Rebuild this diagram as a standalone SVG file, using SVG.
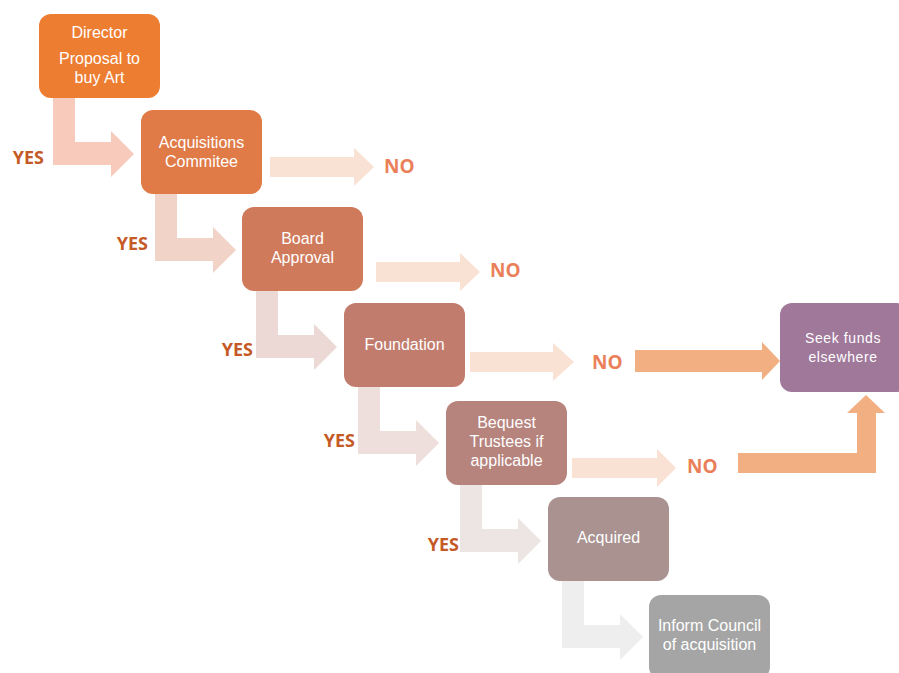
<svg xmlns="http://www.w3.org/2000/svg" width="899" height="673" viewBox="0 0 899 673">
<style>
.node rect{rx:12;ry:12}
.nt{font-family:"Liberation Sans","Open Sans",sans-serif;font-size:16px;fill:#fff;text-anchor:middle}
.yes{font-family:"Open Sans","Liberation Sans",sans-serif;font-size:18px;font-weight:bold;fill:#C55A27;text-anchor:end}
.no{font-family:"Open Sans","Liberation Sans",sans-serif;font-size:19px;font-weight:bold;fill:#EA805A}
.noarr{fill:#F9E2D4}
.big{fill:#F2AF81}
</style>
<rect width="899" height="673" fill="#fff"/>
<g id="connectors">
<polygon fill="#F7CABB" points="53,98 75,98 75,142 111,142 111,131 134,154 111,177 111,165 53,165"/>
<polygon fill="#F2D3C8" points="155,194 177,194 177,238 213,238 213,227 236,250 213,273 213,261 155,261"/>
<polygon fill="#ECD8D5" points="256,291 278,291 278,335 314,335 314,324 337,347 314,370 314,358 256,358"/>
<polygon fill="#EEDEDC" points="358,387 380,387 380,431 416,431 416,420 439,443 416,466 416,454 358,454"/>
<polygon fill="#EDE5E4" points="460,485 482,485 482,529 518,529 518,518 541,541 518,564 518,552 460,552"/>
<polygon fill="#EFEEEE" points="562,581 584,581 584,625 620,625 620,614 643,637 620,660 620,648 562,648"/>
<polygon class="noarr" points="270,157 354,157 354,148 374,167 354,186 354,177 270,177"/>
<polygon class="noarr" points="376,262 460,262 460,253 480,272 460,291 460,282 376,282"/>
<polygon class="noarr" points="470,352 553,352 553,343 574,362 553,381 553,372 470,372"/>
<polygon class="noarr" points="572,458 657,458 657,449 676,468 657,487 657,478 572,478"/>
<polygon class="big" points="635,350 762,350 762,342 780,361 762,380 762,372 635,372"/>
<polygon class="big" points="738,453 857,453 857,413 847,413 866,395 885,413 876,413 876,473 738,473"/>
<text class="yes" x="44" y="164">YES</text>
<text class="yes" x="148" y="250">YES</text>
<text class="yes" x="253" y="356">YES</text>
<text class="yes" x="355" y="447">YES</text>
<text class="yes" x="459" y="551">YES</text>
<text class="no" x="384" y="173">NO</text>
<text class="no" x="490" y="277">NO</text>
<text class="no" x="592" y="369">NO</text>
<text class="no" x="687" y="473">NO</text>
</g>
<g id="director" class="node"><rect x="39" y="14" width="121" height="84" fill="#ED7D31"/>
<text class="nt" x="99.5" y="38">Director</text>
<text class="nt" x="99.5" y="64">Proposal to</text>
<text class="nt" x="99.5" y="83">buy Art</text></g>
<g id="acquisitions" class="node"><rect x="141" y="110" width="121" height="84" fill="#E07B47"/>
<text class="nt" x="201.5" y="148">Acquisitions</text>
<text class="nt" x="201.5" y="167">Commitee</text></g>
<g id="board" class="node"><rect x="242" y="207" width="121" height="84" fill="#D07A5C"/>
<text class="nt" x="302.5" y="244">Board</text>
<text class="nt" x="302.5" y="263">Approval</text></g>
<g id="foundation" class="node"><rect x="344" y="303" width="121" height="84" fill="#C27C6E"/>
<text class="nt" x="404.5" y="350">Foundation</text></g>
<g id="bequest" class="node"><rect x="446" y="401" width="121" height="84" fill="#B6837D"/>
<text class="nt" x="506.5" y="428">Bequest</text>
<text class="nt" x="506.5" y="447">Trustees if</text>
<text class="nt" x="506.5" y="466">applicable</text></g>
<g id="acquired" class="node"><rect x="548" y="497" width="121" height="84" fill="#A99290"/>
<text class="nt" x="608.5" y="543">Acquired</text></g>
<g id="inform" class="node"><rect x="649" y="595" width="121" height="84" fill="#A5A5A5"/>
<text class="nt" x="709.5" y="631">Inform Council</text>
<text class="nt" x="709.5" y="650">of acquisition</text></g>
<g id="seek" class="node"><rect x="780" y="303" width="128" height="89" fill="#A0789A"/>
<text class="nt" x="843" y="343" style="font-size:14px;letter-spacing:0.6px">Seek funds</text>
<text class="nt" x="843" y="362" style="font-size:14px;letter-spacing:0.6px">elsewhere</text></g>
</svg>
